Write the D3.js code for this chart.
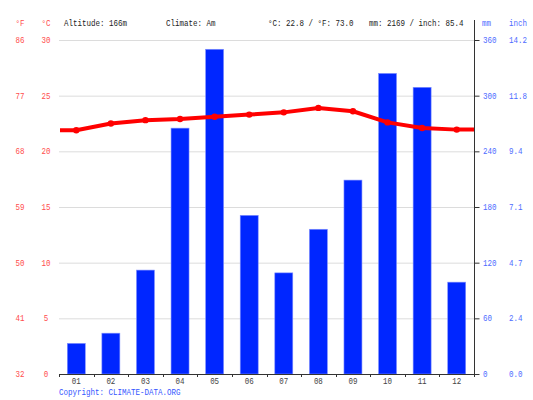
<!DOCTYPE html>
<html><head><meta charset="utf-8">
<script src="https://cdn.jsdelivr.net/npm/d3@7"></script>
<style>body{margin:0;background:#fff}svg{display:block}text{font-family:"Liberation Mono","DejaVu Sans Mono",monospace;font-size:8.5px}</style>
</head><body><svg id="c" width="533" height="400"></svg>
<script>
const months = ["01","02","03","04","05","06","07","08","09","10","11","12"];
const tempC = [21.9, 22.5, 22.8, 22.9, 23.1, 23.3, 23.5, 23.9, 23.6, 22.6, 22.1, 21.95];
const precipMm = [33, 44, 112, 265, 350, 171, 109, 156, 209, 324, 309, 99];
const cTicks = [0, 5, 10, 15, 20, 25, 30];
const fTicks = ["32", "41", "50", "59", "68", "77", "86"];
const mmTicks = [0, 60, 120, 180, 240, 300, 360];
const inchTicks = ["0.0", "2.4", "4.7", "7.1", "9.4", "11.8", "14.2"];
const header = {alt: "Altitude: 166m", climate: "Climate: Am", temp: "°C: 22.8 / °F: 73.0", prec: "mm: 2169 / inch: 85.4"};

const svg = d3.select("#c");
const L = 59, R = 474, T = 40, B = 374;
const CW = 4.5;
const x = d3.scaleBand().domain(months).range([L, R]).paddingInner(0.48).paddingOuter(0.24);
const xc = d3.scaleBand().domain(months).range([L, R]);
const yT = d3.scaleLinear().domain([0, 30]).range([B, T]);
const yP = d3.scaleLinear().domain([0, 360]).range([B, T]);
const red = "#ff4d4d", blue = "#4d6bff";
function fit(sel) {
  sel.each(function() {
    const n = this.textContent.length;
    d3.select(this).attr("textLength", n * CW).attr("lengthAdjust", "spacingAndGlyphs");
  });
  return sel;
}

// grid
svg.append("g").selectAll("line").data(cTicks).join("line")
  .attr("x1", L).attr("x2", R).attr("y1", d => yT(d) + 0.5).attr("y2", d => yT(d) + 0.5)
  .attr("stroke", "#dcdcdc").attr("stroke-width", 1);

// bars
svg.append("g").selectAll("rect").data(precipMm).join("rect")
  .attr("x", (d, i) => x(months[i])).attr("width", x.bandwidth())
  .attr("y", d => yP(d)).attr("height", d => B - yP(d))
  .attr("fill", "#0026ff").attr("stroke", "#8090ff").attr("stroke-width", 0.6);

// temperature line, extended flat to plot edges
const pts = tempC.map((d, i) => [xc(months[i]) + xc.bandwidth() / 2, yT(d)]);
const linePts = [[L + 1, yT(tempC[0])], ...pts, [R, yT(tempC[tempC.length - 1])]];
svg.append("path").datum(linePts).attr("d", d3.line())
  .attr("fill", "none").attr("stroke", "#ff0000").attr("stroke-width", 4).attr("stroke-linejoin", "round");
svg.append("g").selectAll("circle").data(pts).join("circle")
  .attr("cx", d => d[0]).attr("cy", d => d[1]).attr("r", 3.2).attr("fill", "#ff0000");

// right axis
const ra = svg.append("g").attr("transform", `translate(${R + 0.5},0)`)
  .call(d3.axisRight(yP).tickValues(mmTicks).tickSize(5).tickFormat(""));
ra.select(".domain").remove();
ra.selectAll("line").attr("stroke", "#333");
svg.append("line").attr("x1", R + 0.5).attr("x2", R + 0.5).attr("y1", 20).attr("y2", B + 3).attr("stroke", "#333");

// bottom axis
const ba = svg.append("g").attr("transform", `translate(0,${B + 0.5})`)
  .call(d3.axisBottom(xc).tickSize(0).tickFormat(""));
ba.select(".domain").attr("d", `M${L},0H${R}`).attr("stroke", "#333");
svg.append("g").selectAll("line").data(d3.range(13)).join("line")
  .attr("x1", i => Math.round(L + i * xc.bandwidth()) + 0.5).attr("x2", i => Math.round(L + i * xc.bandwidth()) + 0.5)
  .attr("y1", B).attr("y2", B + 3).attr("stroke", "#333");
fit(svg.append("g").selectAll("text").data(months).join("text")
  .attr("x", d => xc(d) + xc.bandwidth() / 2).attr("y", B + 10).attr("text-anchor", "middle")
  .attr("fill", "#444").text(d => d));

// left labels
fit(svg.append("g").selectAll("text").data(cTicks).join("text")
  .attr("x", 46).attr("y", d => yT(d) + 3).attr("text-anchor", "middle").attr("fill", red).text(d => d));
fit(svg.append("g").selectAll("text").data(fTicks).join("text")
  .attr("x", 20).attr("y", (d, i) => yT(cTicks[i]) + 3).attr("text-anchor", "middle").attr("fill", red).text(d => d));
// right labels
fit(svg.append("g").selectAll("text").data(mmTicks).join("text")
  .attr("x", 483).attr("y", d => yP(d) + 3).attr("fill", blue).text(d => d));
fit(svg.append("g").selectAll("text").data(inchTicks).join("text")
  .attr("x", 509).attr("y", (d, i) => yP(mmTicks[i]) + 3).attr("fill", blue).text(d => d));

// header
const hy = 26;
const hg = svg.append("g");
hg.append("text").attr("x", 20).attr("y", hy).attr("text-anchor", "middle").attr("fill", red).text("°F");
hg.append("text").attr("x", 46).attr("y", hy).attr("text-anchor", "middle").attr("fill", red).text("°C");
hg.append("text").attr("x", 64).attr("y", hy).attr("fill", "#222").text(header.alt);
hg.append("text").attr("x", 166).attr("y", hy).attr("fill", "#222").text(header.climate);
hg.append("text").attr("x", 268).attr("y", hy).attr("fill", "#222").text(header.temp);
hg.append("text").attr("x", 369).attr("y", hy).attr("fill", "#222").text(header.prec);
hg.append("text").attr("x", 482).attr("y", hy).attr("fill", blue).text("mm");
hg.append("text").attr("x", 509).attr("y", hy).attr("fill", blue).text("inch");
fit(hg.selectAll("text"));

fit(svg.append("text").attr("x", 59).attr("y", 395).attr("fill", "#3355ff").text("Copyright: CLIMATE-DATA.ORG"));
</script></body></html>
